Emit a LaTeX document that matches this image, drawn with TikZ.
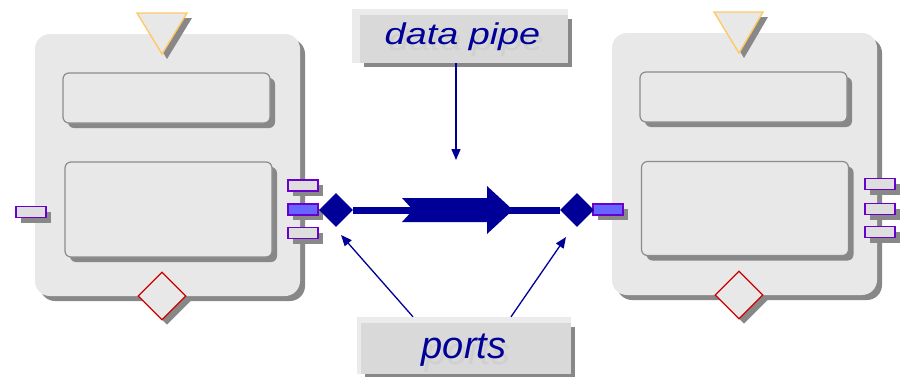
\documentclass[tikz,border=0pt]{standalone}
\usepackage{fontspec}
\usepackage{graphicx}
\newfontfamily\labelfont{Liberation Sans}
\usetikzlibrary{shapes.geometric,shadows,arrows.meta,backgrounds}

\definecolor{blockfill}{HTML}{E8E8E8}
\definecolor{shadowgray}{HTML}{888888}
\definecolor{paneedge}{HTML}{8C8C8C}
\definecolor{navy}{HTML}{000099}
\definecolor{portedge}{HTML}{6A00D0}
\definecolor{portfill}{HTML}{DEDEDE}
\definecolor{portactive}{HTML}{6666FF}
\definecolor{triedge}{HTML}{FFC966}
\definecolor{gatered}{HTML}{CC0000}
\definecolor{tagfill}{HTML}{D9D9D9}
\definecolor{tagrim}{HTML}{EBEBEB}
\definecolor{tagghost}{HTML}{D0D0D0}

\begin{document}
\begin{tikzpicture}[x=1pt,y=-1pt,
  drop5/.style={general shadow={fill=shadowgray,shadow xshift=5pt,shadow yshift=-5pt}},
  drop4/.style={general shadow={fill=shadowgray,shadow xshift=4pt,shadow yshift=-4pt}},
  component/.style={rectangle,rounded corners=15pt,fill=blockfill,
    minimum width=265pt,minimum height=262pt,inner sep=0pt,drop5},
  pane/.style={rectangle,rounded corners=6pt,draw=paneedge,line width=1.2pt,
    fill=blockfill,minimum width=207pt,inner sep=0pt,drop5},
  portbox/.style={rectangle,draw=portedge,line width=1.2pt,fill=portfill,
    minimum width=30pt,minimum height=11pt,inner sep=0pt,drop5},
  portlive/.style={portbox,fill=portactive},
  trigger/.style={draw=triedge,line width=1.4pt,fill=blockfill,line join=miter,drop5},
  gate/.style={diamond,draw=gatered,line width=1.3pt,fill=blockfill,
    minimum width=48pt,minimum height=48pt,inner sep=0pt,drop5},
  joint/.style={diamond,fill=navy,minimum width=34pt,minimum height=34pt,inner sep=0pt},
  pipe/.style={draw=navy,line width=7pt},
  pointer/.style={draw=navy,line width=1.3pt,-{Triangle[length=11pt,width=9pt]}},
  tag/.style={rectangle,fill=tagfill,inner sep=0pt,drop4},
  tagtext/.style={inner sep=0pt,anchor=base,text=navy,font=\labelfont\itshape},
  ghosttext/.style={tagtext,text=tagghost}
]
\useasboundingbox (0,0) rectangle (902,376);

% ---------- left component ----------
\node[component] (L-body) at (167.5,165) {};
\node[pane,minimum height=50pt] (L-top) at (166.5,98) {};
\node[pane,minimum height=95pt] (L-main) at (168.5,209.5) {};
\path[trigger] (137,13) -- (187,13) -- (162,54) -- cycle;
\node[gate] (L-gate) at (162,296) {};
\node[portbox] (L-in) at (31,212) {};
\node[portbox] (L-o1) at (303,185.5) {};
\node[portlive] (L-o2) at (303,209.5) {};
\node[portbox] (L-o3) at (303,233) {};

% ---------- right component ----------
\begin{scope}[xshift=577pt]
\node[component] (R-body) at (167.5,164) {};
\node[pane,minimum height=50pt] (R-top) at (166.5,97) {};
\node[pane,minimum height=94pt] (R-main) at (168,208.5) {};
\path[trigger] (137,12) -- (186,12) -- (162,53) -- cycle;
\node[gate] (R-gate) at (162,295) {};
\node[portlive] (R-in) at (31,209.5) {};
\node[portbox] (R-o1) at (303,184) {};
\node[portbox] (R-o2) at (303,209) {};
\node[portbox] (R-o3) at (303,232) {};
\end{scope}

% ---------- data pipe between the two ports ----------
\node[joint] (J-left) at (336,210) {};
\node[joint] (J-right) at (577,210) {};
\draw[pipe] (J-left.east) -- (J-right.west);
\fill[navy] (402,198) -- (487,198) -- (487,186) -- (513,210) -- (487,234)
  -- (487,222) -- (402,222) -- (413,210) -- cycle;

% ---------- captions ----------
\node[tag,minimum width=208pt,minimum height=48pt] (dp) at (464,39) {};
\node[tag,minimum width=210pt,minimum height=51pt] (pt) at (466,348.5) {};
\begin{scope}[on background layer]
  \fill[tagrim] ([shift={(-8pt,6pt)}]dp.north west) rectangle (dp.south east);
  \fill[tagrim] ([shift={(-4pt,6pt)}]pt.north west) rectangle (pt.south east);
\end{scope}
\node[ghosttext] (dp-ghost) at (466,50)
  {\fontsize{30}{36}\selectfont\scalebox{1.26}[1]{data pipe}};
\node[tagtext] (dp-text) at (462.5,44)
  {\fontsize{30}{36}\selectfont\scalebox{1.26}[1]{data pipe}};
\node[ghosttext] (pt-ghost) at (468,364)
  {\fontsize{38}{44}\selectfont ports};
\node[tagtext] (pt-text) at (464,358)
  {\fontsize{38}{44}\selectfont ports};

% ---------- pointers ----------
\coordinate (pipe-hit) at (456,160);
\coordinate (left-hit) at (341,235);
\coordinate (right-hit) at (566,237);
\draw[pointer] ([xshift=-8pt]dp.south) -- (pipe-hit);
\draw[pointer] ([xshift=-53pt,yshift=6pt]pt.north) -- (left-hit);
\draw[pointer] ([xshift=45pt,yshift=6pt]pt.north) -- (right-hit);
\end{tikzpicture}
\end{document}
